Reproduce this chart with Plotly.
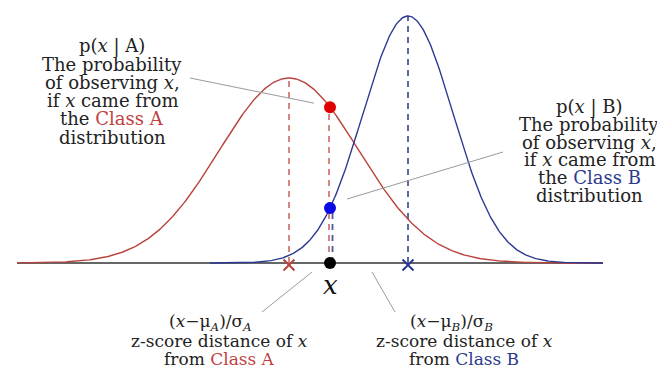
import numpy as np
import plotly.graph_objects as go

# class parameters (x in chart units, heights in arbitrary density units)
class_names = ["A", "B"]
means = [2.89, 4.08]
sigmas = [0.70, 0.45]
peaks = [1.85, 2.47]
x_observed = 3.30
x_domain = [0.17, 6.03]

curve_colors = ["#b8433c", "#2b3990"]
dash_colors = ["#d27a76", "#4a5a9c"]
dot_colors = ["#e00000", "#0a0ae6"]
text_colors = ["#bf3f3f", "#2d3a8c"]


def density(x, i):
    return peaks[i] * np.exp(-0.5 * ((x - means[i]) / sigmas[i]) ** 2)


fig = go.Figure()

# baseline
fig.add_trace(go.Scatter(x=x_domain, y=[0, 0], mode="lines",
                         line=dict(color="#333333", width=1.5)))

# dashed verticals from the peaks and from the observed point
for i in range(2):
    fig.add_trace(go.Scatter(x=[means[i], means[i]], y=[0, peaks[i]], mode="lines",
                             line=dict(color=dash_colors[i], width=1.8, dash="6px,5px")))
offsets = [-0.01, 0.025]
for i in range(2):
    xo = x_observed + offsets[i]
    fig.add_trace(go.Scatter(x=[xo, xo], y=[0, density(x_observed, i)], mode="lines",
                             line=dict(color=dash_colors[i], width=1.8, dash="6px,5px")))

# curves
starts = [x_domain[0], 2.1]
for i in range(2):
    xs = np.linspace(starts[i], x_domain[1], 400)
    fig.add_trace(go.Scatter(x=xs, y=density(xs, i), mode="lines",
                             line=dict(color=curve_colors[i], width=1.4)))

# leader lines (gray)
leaders = [
    ([1.90, x_observed - 0.16], [1.85, density(x_observed, 0) + 0.04]),
    ([5.03, x_observed + 0.17], [1.11, density(x_observed, 1) + 0.09]),
    ([x_observed - 0.18, x_observed - 0.68], [-0.09, -0.49]),
    ([x_observed + 0.42, x_observed + 0.65], [-0.09, -0.49]),
]
for lx, ly in leaders:
    fig.add_trace(go.Scatter(x=lx, y=ly, mode="lines",
                             line=dict(color="#9a9a9a", width=1)))

# mean markers
for i in range(2):
    fig.add_trace(go.Scatter(x=[means[i]], y=[-0.02], mode="markers",
                             marker=dict(symbol="x-thin", size=11,
                                         line=dict(color=curve_colors[i], width=2))))

# observed point and its densities
for i in range(2):
    fig.add_trace(go.Scatter(x=[x_observed], y=[density(x_observed, i)], mode="markers",
                             marker=dict(color=dot_colors[i], size=12)))
fig.add_trace(go.Scatter(x=[x_observed], y=[0], mode="markers",
                         marker=dict(color="black", size=12)))

serif = "DejaVu Serif"
ann = []


def block(cx, top, lines, step, size):
    for k, t in enumerate(lines):
        ann.append(dict(x=cx, y=top - k * step, text=t, showarrow=False,
                        xanchor="center", yanchor="middle",
                        font=dict(family=serif, size=size, color="#222222")))


def cls(i):
    return "<span style='color:%s'>Class %s</span>" % (text_colors[i], class_names[i])


block(1.12, 2.17, ["p(<i>x</i> | A)", "The probability", "of observing <i>x</i>,",
                   "if <i>x</i> came from", "the " + cls(0), "distribution"], 0.182, 18)
block(5.89, 1.56, ["p(<i>x</i> | B)", "The probability", "of observing <i>x</i>,",
                   "if <i>x</i> came from", "the " + cls(1), "distribution"], 0.176, 18)

formula = "(<i>x</i>\u2212\u03bc<sub><i>%s</i></sub>)/\u03c3<sub><i>%s</i></sub>"
block(2.10, -0.59, [formula % ("A", "A")], 0.18, 17)
block(2.19, -0.78, ["z-score distance of <i>x</i>", "from " + cls(0)], 0.18, 17)
block(4.51, -0.59, [formula % ("B", "B")], 0.18, 17)
block(4.64, -0.78, ["z-score distance of <i>x</i>", "from " + cls(1)], 0.18, 17)

ann.append(dict(x=x_observed, y=-0.22, text="<i>x</i>", showarrow=False,
                xanchor="center", yanchor="middle",
                font=dict(family=serif, size=26, color="#111111")))

fig.update_layout(
    width=657, height=372,
    margin=dict(l=0, r=0, t=0, b=0),
    paper_bgcolor="white", plot_bgcolor="white",
    showlegend=False,
    xaxis=dict(range=[0, 6.57], visible=False, fixedrange=True),
    yaxis=dict(range=[-1.09, 2.63], visible=False, fixedrange=True),
    annotations=ann,
)

# drop the browser's default page margin so the figure sits at the top-left corner
fig.write_html("out.html", config={"displayModeBar": False},
               post_script="document.body.style.margin = '0';")
